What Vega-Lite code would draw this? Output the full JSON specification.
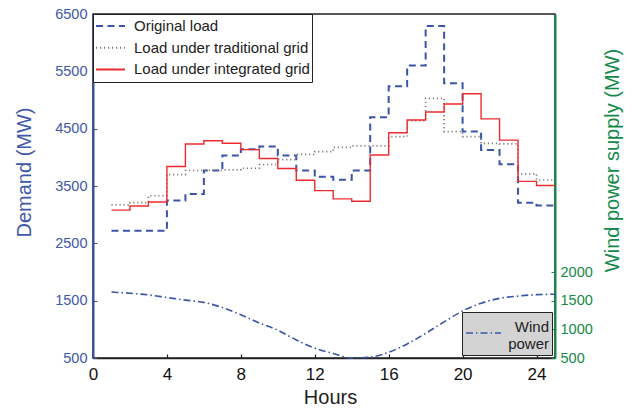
{
  "$schema": "https://vega.github.io/schema/vega-lite/v6.json",
  "width": 462,
  "height": 344,
  "autosize": {"type": "none"},
  "padding": {"left": 93, "top": 14, "right": 77, "bottom": 53},
  "background": "white",
  "config": {
    "font": "Liberation Sans",
    "view": {"stroke": "#222", "strokeWidth": 1.5}
  },
  "datasets": {
    "demand": [
      {"hour": 1, "series": "Original load", "value": 2720},
      {"hour": 2, "series": "Original load", "value": 2720},
      {"hour": 3, "series": "Original load", "value": 2720},
      {"hour": 4, "series": "Original load", "value": 3245},
      {"hour": 5, "series": "Original load", "value": 3360},
      {"hour": 6, "series": "Original load", "value": 3770},
      {"hour": 7, "series": "Original load", "value": 4030},
      {"hour": 8, "series": "Original load", "value": 4140},
      {"hour": 9, "series": "Original load", "value": 4190},
      {"hour": 10, "series": "Original load", "value": 4030},
      {"hour": 11, "series": "Original load", "value": 3770},
      {"hour": 12, "series": "Original load", "value": 3660},
      {"hour": 13, "series": "Original load", "value": 3610},
      {"hour": 14, "series": "Original load", "value": 3770},
      {"hour": 15, "series": "Original load", "value": 4700},
      {"hour": 16, "series": "Original load", "value": 5240},
      {"hour": 17, "series": "Original load", "value": 5600},
      {"hour": 18, "series": "Original load", "value": 6290},
      {"hour": 19, "series": "Original load", "value": 5290},
      {"hour": 20, "series": "Original load", "value": 4450},
      {"hour": 21, "series": "Original load", "value": 4130},
      {"hour": 22, "series": "Original load", "value": 3880},
      {"hour": 23, "series": "Original load", "value": 3210},
      {"hour": 24, "series": "Original load", "value": 3160},
      {"hour": 25, "series": "Original load", "value": 3160},
      {"hour": 1, "series": "Load under traditional grid", "value": 3170},
      {"hour": 2, "series": "Load under traditional grid", "value": 3210},
      {"hour": 3, "series": "Load under traditional grid", "value": 3330},
      {"hour": 4, "series": "Load under traditional grid", "value": 3700},
      {"hour": 5, "series": "Load under traditional grid", "value": 3770},
      {"hour": 6, "series": "Load under traditional grid", "value": 3775},
      {"hour": 7, "series": "Load under traditional grid", "value": 3780},
      {"hour": 8, "series": "Load under traditional grid", "value": 3810},
      {"hour": 9, "series": "Load under traditional grid", "value": 3875},
      {"hour": 10, "series": "Load under traditional grid", "value": 3960},
      {"hour": 11, "series": "Load under traditional grid", "value": 4050},
      {"hour": 12, "series": "Load under traditional grid", "value": 4100},
      {"hour": 13, "series": "Load under traditional grid", "value": 4175},
      {"hour": 14, "series": "Load under traditional grid", "value": 4200},
      {"hour": 15, "series": "Load under traditional grid", "value": 4200},
      {"hour": 16, "series": "Load under traditional grid", "value": 4360},
      {"hour": 17, "series": "Load under traditional grid", "value": 4640},
      {"hour": 18, "series": "Load under traditional grid", "value": 5030},
      {"hour": 19, "series": "Load under traditional grid", "value": 4450},
      {"hour": 20, "series": "Load under traditional grid", "value": 4360},
      {"hour": 21, "series": "Load under traditional grid", "value": 4245},
      {"hour": 22, "series": "Load under traditional grid", "value": 4235},
      {"hour": 23, "series": "Load under traditional grid", "value": 3710},
      {"hour": 24, "series": "Load under traditional grid", "value": 3605},
      {"hour": 25, "series": "Load under traditional grid", "value": 3605},
      {"hour": 1, "series": "Load under integrated grid", "value": 3080},
      {"hour": 2, "series": "Load under integrated grid", "value": 3150},
      {"hour": 3, "series": "Load under integrated grid", "value": 3220},
      {"hour": 4, "series": "Load under integrated grid", "value": 3840},
      {"hour": 5, "series": "Load under integrated grid", "value": 4233},
      {"hour": 6, "series": "Load under integrated grid", "value": 4290},
      {"hour": 7, "series": "Load under integrated grid", "value": 4245},
      {"hour": 8, "series": "Load under integrated grid", "value": 4135},
      {"hour": 9, "series": "Load under integrated grid", "value": 3980},
      {"hour": 10, "series": "Load under integrated grid", "value": 3805},
      {"hour": 11, "series": "Load under integrated grid", "value": 3600},
      {"hour": 12, "series": "Load under integrated grid", "value": 3420},
      {"hour": 13, "series": "Load under integrated grid", "value": 3275},
      {"hour": 14, "series": "Load under integrated grid", "value": 3235},
      {"hour": 15, "series": "Load under integrated grid", "value": 4040},
      {"hour": 16, "series": "Load under integrated grid", "value": 4430},
      {"hour": 17, "series": "Load under integrated grid", "value": 4650},
      {"hour": 18, "series": "Load under integrated grid", "value": 4790},
      {"hour": 19, "series": "Load under integrated grid", "value": 4930},
      {"hour": 20, "series": "Load under integrated grid", "value": 5110},
      {"hour": 21, "series": "Load under integrated grid", "value": 4670},
      {"hour": 22, "series": "Load under integrated grid", "value": 4300},
      {"hour": 23, "series": "Load under integrated grid", "value": 3580},
      {"hour": 24, "series": "Load under integrated grid", "value": 3510},
      {"hour": 25, "series": "Load under integrated grid", "value": 3510}
    ],
    "wind": [
      {"hour": 1, "name": "Wind power", "wind": 1650},
      {"hour": 2, "name": "Wind power", "wind": 1630},
      {"hour": 3, "name": "Wind power", "wind": 1600},
      {"hour": 4, "name": "Wind power", "wind": 1555},
      {"hour": 5, "name": "Wind power", "wind": 1510},
      {"hour": 6, "name": "Wind power", "wind": 1470},
      {"hour": 7, "name": "Wind power", "wind": 1380},
      {"hour": 8, "name": "Wind power", "wind": 1255},
      {"hour": 9, "name": "Wind power", "wind": 1110},
      {"hour": 10, "name": "Wind power", "wind": 985},
      {"hour": 11, "name": "Wind power", "wind": 815},
      {"hour": 12, "name": "Wind power", "wind": 670},
      {"hour": 13, "name": "Wind power", "wind": 580},
      {"hour": 14, "name": "Wind power", "wind": 500},
      {"hour": 15, "name": "Wind power", "wind": 515},
      {"hour": 16, "name": "Wind power", "wind": 600},
      {"hour": 17, "name": "Wind power", "wind": 745},
      {"hour": 18, "name": "Wind power", "wind": 930},
      {"hour": 19, "name": "Wind power", "wind": 1130},
      {"hour": 20, "name": "Wind power", "wind": 1320},
      {"hour": 21, "name": "Wind power", "wind": 1455},
      {"hour": 22, "name": "Wind power", "wind": 1540},
      {"hour": 23, "name": "Wind power", "wind": 1580},
      {"hour": 24, "name": "Wind power", "wind": 1605},
      {"hour": 25, "name": "Wind power", "wind": 1612}
    ]
  },
  "layer": [
    {
      "data": {"name": "demand"},
      "mark": {"type": "line", "interpolate": "step-after", "strokeCap": "butt"},
      "encoding": {
        "x": {
          "field": "hour", "type": "quantitative",
          "scale": {"domain": [0, 25], "nice": false, "zero": false},
          "axis": {
            "values": [0, 4, 8, 12, 16, 20, 24], "format": "d",
            "title": "Hours", "titleFontSize": 20, "titleFontWeight": "normal", "titleColor": "#222",
            "titleX": 237, "titleY": 45, "titleBaseline": "alphabetic", "titleAlign": "center", "titleAnchor": "start",
            "labelFontSize": 17, "labelColor": "#111", "labelPadding": 12, "labelFlush": false,
            "domainColor": "#222", "domainWidth": 1.5,
            "tickColor": "#222", "tickSize": -4, "tickWidth": 1.2, "grid": false
          }
        },
        "y": {
          "field": "value", "type": "quantitative",
          "scale": {"domain": [500, 6500], "nice": false, "zero": false},
          "axis": {
            "values": [500, 1500, 2500, 3500, 4500, 5500, 6500], "format": "d",
            "title": "Demand (MW)", "titleFontSize": 20, "titleFontWeight": "normal", "titleColor": "#4058a8",
            "titleX": -68.5, "titleY": 158, "titleBaseline": "middle", "titleAlign": "center", "titleAnchor": "start", "titleAngle": -90,
            "labelFontSize": 14.5, "labelColor": "#4058a8", "labelPadding": 10, "labelFlush": false,
            "domainColor": "#3650a2", "domainWidth": 2,
            "tickColor": "#3650a2", "tickSize": -4, "grid": false
          }
        },
        "color": {
          "field": "series", "type": "nominal",
          "scale": {"domain": ["Original load", "Load under traditional grid", "Load under integrated grid"], "range": ["#3a55a8", "#7a7a7a", "#ee2a2f"]},
          "legend": {
            "title": null, "orient": "top-left", "offset": 0, "fillColor": "white", "strokeColor": "#222",
            "padding": 2, "symbolType": "stroke", "symbolSize": 841, "symbolStrokeWidth": 2,
            "labelFontSize": 15, "labelColor": "#222", "labelOffset": 8, "clipHeight": 20, "rowPadding": 1.7, "labelLimit": 300
          }
        },
        "strokeDash": {
          "field": "series", "type": "nominal",
          "scale": {"domain": ["Original load", "Load under traditional grid", "Load under integrated grid"], "range": [[7, 4.5], [1.2, 2.8], [1, 0]]},
          "legend": {
            "title": null, "orient": "top-left", "offset": 0, "fillColor": "white", "strokeColor": "#222",
            "padding": 2, "symbolType": "stroke", "symbolSize": 841, "symbolStrokeWidth": 2,
            "labelFontSize": 15, "labelColor": "#222", "labelOffset": 8, "clipHeight": 20, "rowPadding": 1.7, "labelLimit": 300
          }
        },
        "strokeWidth": {
          "field": "series", "type": "nominal",
          "scale": {"domain": ["Original load", "Load under traditional grid", "Load under integrated grid"], "range": [2, 1.4, 2.5]},
          "legend": null
        }
      }
    },
    {
      "data": {"name": "wind"},
      "mark": {"type": "line", "interpolate": "monotone", "strokeWidth": 1.6},
      "encoding": {
        "x": {"field": "hour", "type": "quantitative"},
        "y": {
          "field": "wind", "type": "quantitative",
          "scale": {"domain": [500, 6500], "nice": false, "zero": false},
          "axis": {
            "orient": "right",
            "values": [500, 1000, 1500, 2000], "format": "d",
            "title": "Wind power supply (MW)", "titleFontSize": 20, "titleFontWeight": "normal", "titleColor": "#15894a",
            "titleX": 57, "titleY": 146, "titleBaseline": "middle", "titleAlign": "center", "titleAnchor": "start", "titleAngle": -90,
            "labelFontSize": 14.5, "labelColor": "#15894a", "labelPadding": 9, "labelFlush": false,
            "domainColor": "#15894a", "domainWidth": 2,
            "tickColor": "#15894a", "tickSize": -4, "grid": false
          }
        },
        "color": {
          "field": "name", "type": "nominal",
          "scale": {"domain": ["Wind power"], "range": ["#3a55a8"]},
          "legend": {
            "title": null, "orient": "bottom-right", "offset": 3, "fillColor": "#d3d3d3", "strokeColor": "#222",
            "padding": 3, "symbolType": "stroke", "symbolSize": 1225, "symbolStrokeWidth": 1.5,
            "labelFontSize": 15, "labelColor": "#222", "labelAlign": "right", "labelOffset": 47,
            "labelExpr": "['Wind', 'power']", "clipHeight": 24, "labelLimit": 300,
            "encode": {"symbols": {"update": {"y": {"value": 18}}}}
          }
        },
        "strokeDash": {
          "field": "name", "type": "nominal",
          "scale": {"domain": ["Wind power"], "range": [[7, 3, 1.5, 3]]},
          "legend": {
            "title": null, "orient": "bottom-right", "offset": 3, "fillColor": "#d3d3d3", "strokeColor": "#222",
            "padding": 3, "symbolType": "stroke", "symbolSize": 1225, "symbolStrokeWidth": 1.5,
            "labelFontSize": 15, "labelColor": "#222", "labelAlign": "right", "labelOffset": 47,
            "labelExpr": "['Wind', 'power']", "clipHeight": 24, "labelLimit": 300,
            "encode": {"symbols": {"update": {"y": {"value": 18}}}}
          }
        }
      }
    }
  ],
  "resolve": {"scale": {"y": "independent", "color": "independent", "strokeDash": "independent"}}
}
